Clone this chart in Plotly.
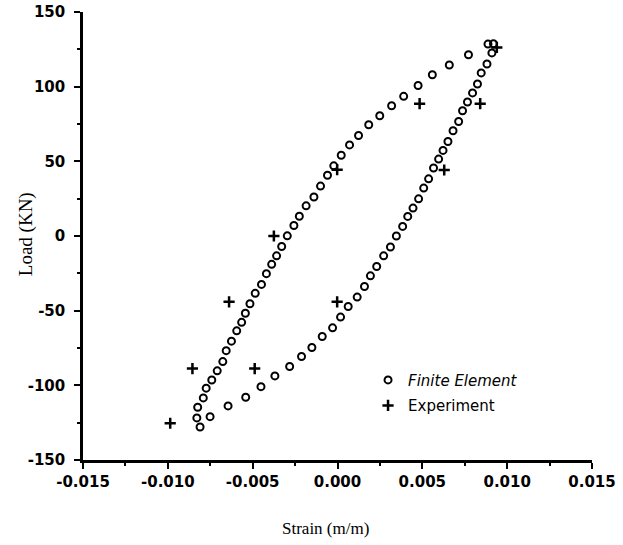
import plotly.graph_objects as go

# Finite element results (strain in m/m, load in KN)
fe_strain = [
    0.00919, 0.00910, 0.00881, 0.00847, 0.00825, 0.00796, 0.00766, 0.00737, 0.00714, 0.00681,
    0.00651, 0.00622, 0.00596, 0.00566, 0.00537, 0.00508, 0.00478, 0.00445, 0.00414, 0.00384,
    0.00347, 0.00312, 0.00272, 0.00231, 0.00194, 0.00159, 0.00116, 0.00063, 0.00018, -0.00029,
    -0.00090, -0.00151, -0.00212, -0.00282, -0.00369, -0.00451, -0.00541, -0.00645, -0.00751, -0.00810,
    -0.00829, -0.00824, -0.00791, -0.00774, -0.00741, -0.00709, -0.00676, -0.00656, -0.00625, -0.00594,
    -0.00565, -0.00543, -0.00516, -0.00485, -0.00448, -0.00419, -0.00388, -0.00359, -0.00329, -0.00296,
    -0.00257, -0.00225, -0.00185, -0.00139, -0.00100, -0.00059, -0.00022, 0.00022, 0.00071, 0.00124,
    0.00184, 0.00249, 0.00319, 0.00390, 0.00475, 0.00559, 0.00659, 0.00772, 0.00887,
]
fe_load = [
    128.8, 122.6, 115.2, 109.2, 101.8, 95.8, 89.7, 83.9, 76.7, 70.5,
    63.3, 57.3, 51.5, 45.5, 38.3, 32.1, 24.9, 18.7, 13.1, 6.4,
    0.0, -7.4, -13.3, -20.4, -26.7, -33.8, -40.9, -47.2, -54.3, -61.5,
    -67.3, -74.7, -80.7, -87.4, -93.7, -100.9, -108.0, -113.8, -121.0, -127.9,
    -121.8, -114.7, -108.4, -101.9, -96.4, -90.3, -84.1, -76.8, -70.4, -63.5,
    -57.8, -51.7, -45.4, -38.4, -32.4, -25.2, -19.0, -13.3, -7.0, 0.1,
    7.0, 13.2, 20.2, 26.1, 33.4, 40.7, 47.0, 54.1, 61.0, 67.3,
    74.5, 80.5, 87.2, 93.5, 100.8, 108.0, 114.5, 121.4, 128.5,
]

# Experimental results
exp_strain = [-0.00986, -0.00855, -0.00639, -0.00488, -0.00375, -0.00002, -0.00002,
              0.00484, 0.00629, 0.00841, 0.00939]
exp_load = [-125.4, -88.8, -44.1, -88.8, 0.0, -44.1, 44.4, 88.6, 44.2, 88.6, 126.3]

# Tick labels
x_tickvals = [-0.015, -0.010, -0.005, 0.000, 0.005, 0.010, 0.015]
x_ticktext = ["-0.015", "-0.010", "-0.005", "0.000", "0.005", "0.010", "0.015"]
y_tickvals = [-150, -100, -50, 0, 50, 100, 150]
y_ticktext = ["-150", "-100", "-50", "0", "50", "100", "150"]

fig = go.Figure()
fig.add_trace(go.Scatter(
    x=fe_strain, y=fe_load, mode="markers", name="<i>Finite Element</i>",
    legendgroup="fe",
    marker=dict(symbol="circle-open", size=7, color="black", line=dict(width=2, color="black")),
))
fig.add_trace(go.Scatter(
    x=exp_strain, y=exp_load, mode="markers", name="Experiment",
    legendgroup="exp",
    marker=dict(symbol="cross-thin-open", size=8, color="black", line=dict(width=2.5, color="black")),
))

tickfont = dict(family="DejaVu Sans", size=15, color="black", weight="bold")

fig.update_layout(
    width=623, height=545,
    margin=dict(l=83, r=31, t=12, b=85, autoexpand=False),
    paper_bgcolor="white", plot_bgcolor="white",
    showlegend=True,
    legend=dict(
        x=0.56, y=0.215, xanchor="left", yanchor="top",
        font=dict(family="DejaVu Sans", size=15, color="black"),
        bgcolor="rgba(0,0,0,0)", tracegroupgap=3, itemwidth=30,
    ),
    xaxis=dict(
        range=[-0.015, 0.015], tickvals=x_tickvals, ticktext=x_ticktext,
        showline=True, linecolor="black", linewidth=2.5, automargin=False,
        ticks="outside", ticklen=6, tickwidth=2, tickcolor="black",
        showgrid=False, zeroline=False, tickfont=tickfont,
        minor=dict(dtick=0.0025, ticks="outside", ticklen=3, tickwidth=1.5, tickcolor="black", showgrid=False),
    ),
    yaxis=dict(
        range=[-150, 150], tickvals=y_tickvals, ticktext=y_ticktext,
        showline=True, linecolor="black", linewidth=2.5, automargin=False,
        ticks="outside", ticklen=6, tickwidth=2, tickcolor="black",
        showgrid=False, zeroline=False, tickfont=tickfont, ticklabelstandoff=6,
        minor=dict(dtick=25, ticks="outside", ticklen=3, tickwidth=1.5, tickcolor="black", showgrid=False),
    ),
    annotations=[
        dict(text="Strain (m/m)", xref="paper", yref="paper", x=0.477, y=-0.154,
             xanchor="center", yanchor="middle", showarrow=False,
             font=dict(family="Liberation Serif", size=17, color="black")),
        dict(text="Load (KN)", xref="paper", yref="paper", x=-0.112, y=0.504,
             xanchor="center", yanchor="middle", showarrow=False, textangle=-90,
             font=dict(family="Liberation Serif", size=19, color="black")),
    ],
)

fig.write_html("out.html", config={"displayModeBar": False},
               post_script="document.body.style.margin='0';")
